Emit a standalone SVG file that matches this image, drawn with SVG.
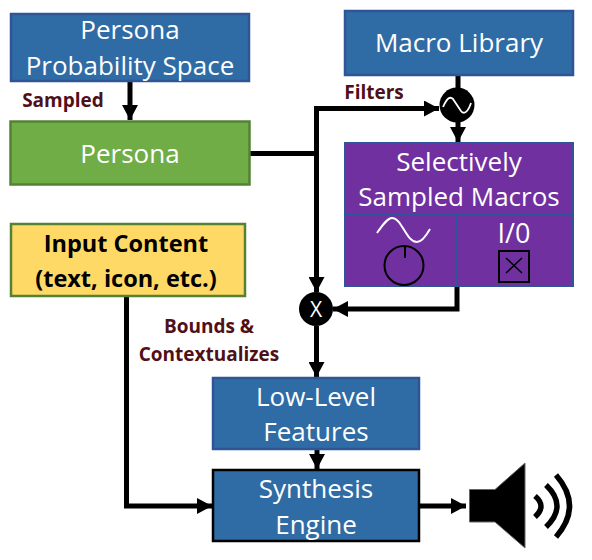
<svg xmlns="http://www.w3.org/2000/svg" width="592" height="560" viewBox="0 0 592 560">
<style>
text{font-family:"Open Sans","Noto Sans","Liberation Sans",sans-serif;text-anchor:middle}
.w{fill:#fff;font-size:26px}
.b{fill:#000;font-size:23.500px;font-weight:700}
.l{fill:#4f1018;font-size:19px;font-weight:700}
.blue{fill:#2f6ca5;stroke:#2f5597;stroke-width:2.5}
.c{fill:none;stroke:#000;stroke-width:5}
.t{fill:none;stroke:#000;stroke-width:2}
</style>
<defs><marker id="a" markerUnits="userSpaceOnUse" markerWidth="16" markerHeight="16" refX="15" refY="8" orient="auto"><path d="M0 0L15 8L0 16z" fill="#000"/></marker></defs>
<rect width="592" height="560" fill="#fff"/>
<g id="connectors">
<path class="c" d="M130 81V120" marker-end="url(#a)"/>
<path class="c" d="M250 153.500H316.500"/>
<path class="c" d="M316.500 108.500V292" marker-end="url(#a)"/>
<path class="c" d="M314 108.500H439" marker-end="url(#a)"/>
<path class="c" d="M458 75V88"/>
<path class="c" d="M458 122V142" marker-end="url(#a)"/>
<path class="c" d="M457 286V309H333" marker-end="url(#a)"/>
<path class="c" d="M316.500 326V377" marker-end="url(#a)"/>
<path class="c" d="M317 449V469" marker-end="url(#a)"/>
<path class="c" d="M126.500 296V506H212" marker-end="url(#a)"/>
<path class="c" d="M419 506H466" marker-end="url(#a)"/>
</g>
<g id="persona-space"><rect class="blue" x="11" y="14" width="238" height="67"/><text class="w" x="130" y="39">Persona</text><text class="w" x="130" y="75">Probability Space</text></g>
<g id="persona"><rect x="10.500" y="121.500" width="239" height="63" fill="#70ad47" stroke="#548235" stroke-width="2.500"/><text class="w" x="130" y="163">Persona</text></g>
<g id="macro-library"><rect class="blue" x="345" y="11" width="228" height="64"/><text class="w" x="459" y="52">Macro Library</text></g>
<g id="filter"><circle cx="457" cy="105" r="17.500" fill="#000"/><path d="M443 107C447 98 450 96 453 99L461 111C464 115 468 112 471 103" fill="none" stroke="#fff" stroke-width="1.800"/></g>
<g id="sampled-macros"><rect x="345" y="143" width="228" height="143" fill="#7030a0" stroke="#2f5597" stroke-width="2"/><path d="M345 214H573M456 214V286" fill="none" stroke="#2f5597" stroke-width="2"/><text class="w" x="459" y="171">Selectively</text><text class="w" x="459" y="206">Sampled Macros</text><text class="w" x="514" y="243" style="font-size:27px">I/0</text>
<path d="M377 233C384 223 388 218 392 218C402 218 406 242 417 242C422 242 426 236 430 229" fill="none" stroke="#fff" stroke-width="2"/>
<circle class="t" cx="404" cy="265.500" r="19.500"/><path class="t" d="M405 246V258"/>
<rect class="t" x="499" y="251" width="30" height="31"/><path class="t" d="M506 258L522 273M522 258L506 273" style="stroke-width:1.500"/></g>
<g id="input-content"><rect x="11" y="224" width="234" height="72" fill="#ffd966" stroke="#548235" stroke-width="2.500"/><text class="b" x="126" y="252">Input Content</text><text class="b" x="126" y="287">(text, icon, etc.)</text></g>
<g id="multiply"><circle cx="316" cy="309" r="17" fill="#000"/><text x="316" y="317" fill="#fff" font-size="21">X</text></g>
<g id="low-level"><rect class="blue" x="213" y="378" width="206" height="71"/><text class="w" x="316" y="406">Low-Level</text><text class="w" x="316" y="441">Features</text></g>
<g id="synthesis"><rect x="213" y="470" width="206" height="71" fill="#2f6ca5" stroke="#000" stroke-width="2.500"/><text class="w" x="316" y="498">Synthesis</text><text class="w" x="316" y="534">Engine</text></g>
<g id="speaker"><path d="M469.500 489.500H495L525 463V548L495 522H469.500z" fill="#000" stroke="#666" stroke-width="1"/><path d="M535 496Q547 506 535 517M546 485Q568 506 546 527M556 475Q583 506 556 537" fill="none" stroke="#000" stroke-width="5.500"/></g>
<g id="labels"><text class="l" x="63" y="107">Sampled</text><text class="l" x="374" y="99">Filters</text><text class="l" x="209" y="333">Bounds &amp;</text><text class="l" x="209" y="361">Contextualizes</text></g>
</svg>
